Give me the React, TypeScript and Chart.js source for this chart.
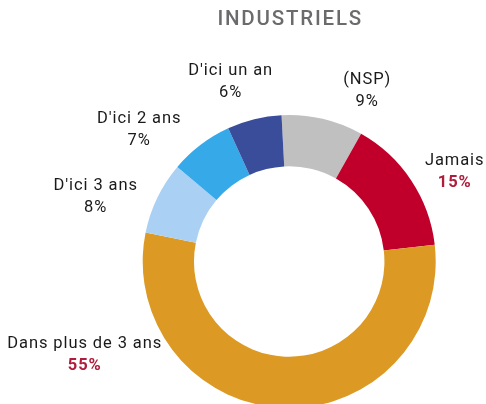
import React, { useEffect, useRef } from "react";
import { Chart, registerables } from "chart.js";

Chart.register(...registerables);

const categories = ["(NSP)", "Jamais", "Dans plus de 3 ans", "D'ici 3 ans", "D'ici 2 ans", "D'ici un an"];
const values = [9, 15, 55, 8, 7, 6];
const colors = ["#c0c0c0", "#c0002a", "#dc9a25", "#aad1f3", "#36a9e9", "#3a4d9a"];
const highlight = [false, true, true, false, false, false];
const title = "INDUSTRIELS";

// label anchor offsets (pixels, relative to doughnut centre)
const labelOffsets: [number, number][] = [
  [77.5, -171],
  [165, -89.5],
  [-205, 93.5],
  [-194, -65],
  [-150.5, -131.5],
  [-59, -179.5],
];

const FONT = "Roboto, 'DejaVu Sans', sans-serif";

const textPlugin = {
  id: "textPlugin",
  afterDraw(chart: any) {
    const ctx = chart.ctx;
    const meta = chart.getDatasetMeta(0);
    const arc = meta.data[0];
    if (!arc) return;
    const cx = arc.x;
    const cy = arc.y;
    ctx.save();
    ctx.textAlign = "center";
    ctx.textBaseline = "middle";
    ctx.fillStyle = "#6b6b6d";
    ctx.font = `500 20.5px ${FONT}`;
    (ctx as any).letterSpacing = "1.8px";
    ctx.fillText(title, cx + 1, 20);
    (ctx as any).letterSpacing = "0.9px";
    categories.forEach((c, i) => {
      const [dx, dy] = labelOffsets[i];
      const x = cx + dx;
      const y = cy + dy;
      ctx.font = `16.5px ${FONT}`;
      ctx.fillStyle = "#1a1a1a";
      ctx.fillText(c, x + 0.5, y - 11);
      if (highlight[i]) {
        ctx.font = `bold 16.5px ${FONT}`;
        ctx.fillStyle = "#b01c3c";
      }
      ctx.fillText(`${values[i]}%`, x + 0.5, y + 11);
    });
    ctx.restore();
  },
};

export default function App() {
  const ref = useRef<HTMLCanvasElement>(null);
  useEffect(() => {
    if (!ref.current) return;
    const chart = new Chart(ref.current, {
      type: "doughnut",
      data: {
        labels: categories,
        datasets: [
          {
            data: values,
            backgroundColor: colors,
            borderWidth: 0,
            radius: 146.5,
            cutout: "65%",
          } as any,
        ],
      },
      options: {
        animation: false,
        responsive: false,
        rotation: -3,
        layout: { padding: { left: 92.4, top: 119, right: 0, bottom: 0 } },
        plugins: { legend: { display: false }, tooltip: { enabled: false }, title: { display: false } },
      },
      plugins: [textPlugin],
    });
    return () => chart.destroy();
  }, []);
  return (
    <div style={{ position: "fixed", left: 0, top: 0, width: 486, height: 404, background: "#fff" }}>
      <canvas ref={ref} width={486} height={404} style={{ width: 486, height: 404, display: "block" }} />
    </div>
  );
}
